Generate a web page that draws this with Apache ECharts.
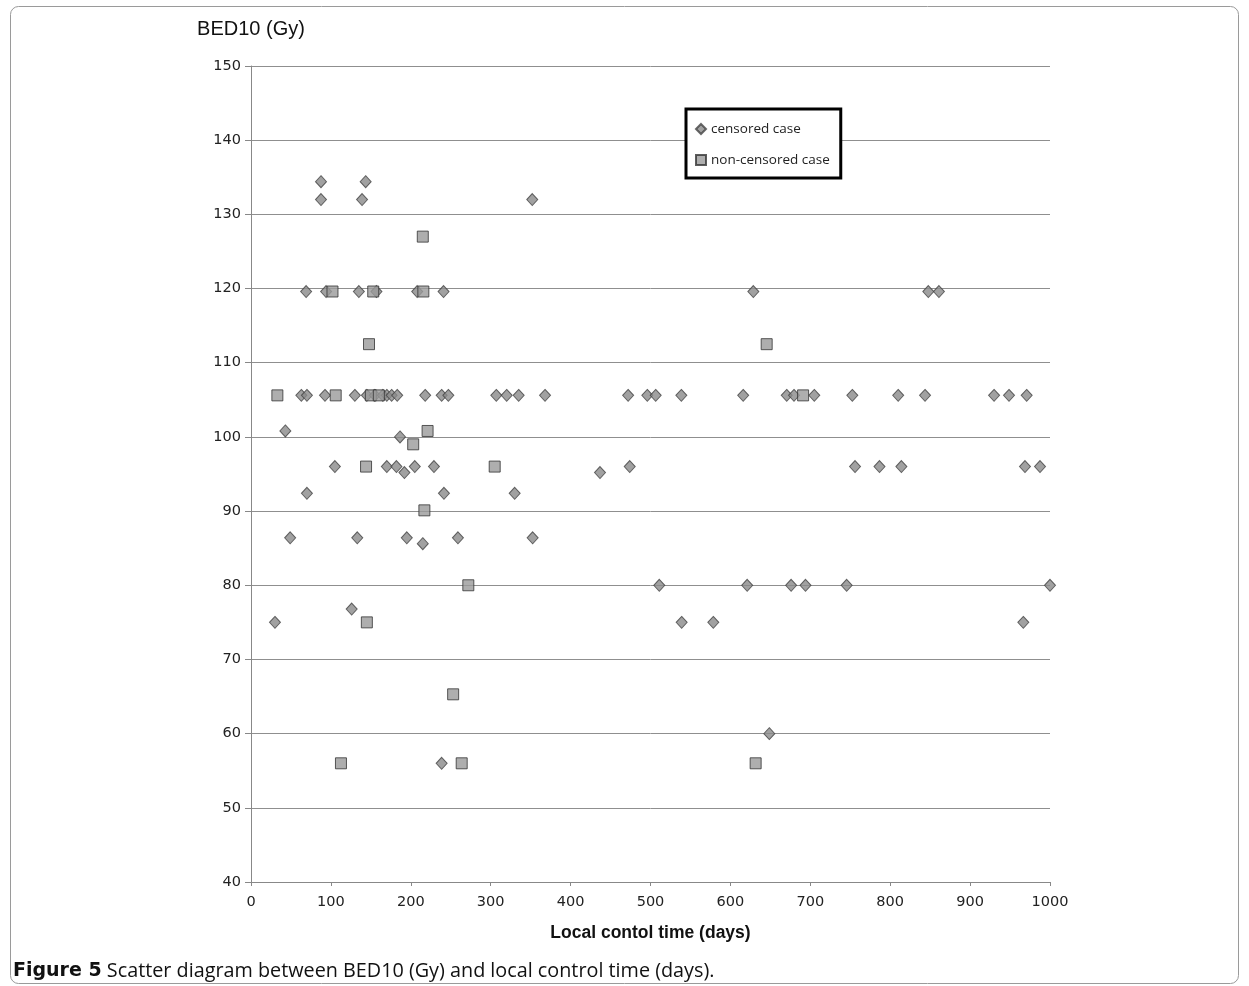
<!DOCTYPE html>
<html>
<head>
<meta charset="utf-8">
<script src="https://cdn.jsdelivr.net/npm/echarts/dist/echarts.min.js"></script>
<style>
html,body{margin:0;padding:0;background:#fff;}
#chart{width:1249px;height:986px;}
</style>
</head>
<body>
<div id="chart"></div>
<script>
// ---- data ----
const xTicks = [0,100,200,300,400,500,600,700,800,900,1000];
const yTicks = [40,50,60,70,80,90,100,110,120,130,140,150];

const censoredDays = [
  87.6, 143.5,
  87.6, 139, 352,
  69, 94, 135, 157, 208, 241, 628.7, 847.7, 861,
  63, 70, 92.6, 130, 145, 155, 165, 170, 176, 183, 218, 238.6, 247, 307, 320, 335, 368,
  472, 496, 506.5, 538.6, 616, 670.5, 679.6, 705, 752.6, 810, 843.6, 930, 948.7, 970.8,
  43,
  186.5,
  105, 170, 182, 205, 229, 474, 756, 786.6, 814, 968.7, 987.5,
  192, 436.8,
  70, 241.5, 330,
  49, 133, 195, 259, 352.5,
  215,
  511, 621, 676, 694, 745.5, 1000,
  126,
  30, 539, 578.6, 966.6,
  648.7,
  238.6
];
const censoredBed = [
  134.4, 134.4,
  132, 132, 132,
  119.6, 119.6, 119.6, 119.6, 119.6, 119.6, 119.6, 119.6, 119.6,
  105.6, 105.6, 105.6, 105.6, 105.6, 105.6, 105.6, 105.6, 105.6, 105.6, 105.6, 105.6, 105.6, 105.6, 105.6, 105.6, 105.6,
  105.6, 105.6, 105.6, 105.6, 105.6, 105.6, 105.6, 105.6, 105.6, 105.6, 105.6, 105.6, 105.6, 105.6,
  100.8,
  100,
  96, 96, 96, 96, 96, 96, 96, 96, 96, 96, 96,
  95.2, 95.2,
  92.4, 92.4, 92.4,
  86.4, 86.4, 86.4, 86.4, 86.4,
  85.6,
  80, 80, 80, 80, 80, 80,
  76.8,
  75, 75, 75, 75,
  60,
  56
];

const nonCensoredDays = [215, 102, 153, 215.7, 147.7, 645.4, 33, 106, 150, 160, 691, 221, 203, 144, 305, 217, 272, 145, 253, 112.6, 263.7, 631.6];
const nonCensoredBed  = [127, 119.6, 119.6, 119.6, 112.5, 112.5, 105.6, 105.6, 105.6, 105.6, 105.6, 100.8, 99, 96, 96, 90.1, 80, 75, 65.3, 56, 56, 56];

const seriesNames = ['censored case', 'non-censored case'];
const xTitle = 'Local contol time (days)';
const yTitle = 'BED10 (Gy)';
const captionBold = 'Figure 5';
const captionText = ' Scatter diagram between BED10 (Gy) and local control time (days).';

// ---- chart ----
const zip = (a, b) => a.map((v, i) => [v, b[i]]);
const chart = echarts.init(document.getElementById('chart'), null, {renderer: 'canvas'});

const tickFont = {fontFamily: 'DejaVu Sans', fontSize: 14.5, color: '#222'};

chart.setOption({
  animation: false,
  backgroundColor: '#fff',
  title: {
    left: 13,
    top: 957,
    padding: 0,
    text: '{b|' + captionBold + '}{n|' + captionText + '}',
    textStyle: {
      rich: {
        b: {fontFamily: 'DejaVu Sans', fontWeight: 'bold', fontSize: 19, lineHeight: 24, verticalAlign: 'bottom', color: '#111'},
        n: {fontFamily: 'Open Sans', fontWeight: 'normal', fontSize: 19.8, lineHeight: 24, verticalAlign: 'bottom', color: '#111'}
      }
    }
  },
  graphic: [{
    type: 'rect',
    shape: {x: 10.5, y: 6.5, width: 1228, height: 977, r: 8},
    style: {fill: 'none', stroke: '#9a9a9a', lineWidth: 1},
    silent: true
  }],
  grid: {left: 251, top: 66, width: 799, height: 816, containLabel: false},
  legend: {
    left: 686,
    top: 109,
    orient: 'vertical',
    padding: [13, 11, 11, 9],
    itemGap: 17,
    itemWidth: 10,
    itemHeight: 10,
    borderColor: '#000',
    borderWidth: 3,
    backgroundColor: '#fff',
    textStyle: {fontFamily: 'Open Sans', fontSize: 13.5, color: '#222'},
    data: [
      {name: seriesNames[0], icon: 'diamond'},
      {name: seriesNames[1], icon: 'rect'}
    ]
  },
  xAxis: {
    type: 'value',
    min: 0, max: 1000, interval: 100,
    name: xTitle,
    nameLocation: 'middle',
    nameGap: 42,
    nameTextStyle: {fontFamily: 'Liberation Sans', fontWeight: 'bold', fontSize: 17.5, color: '#111'},
    axisLine: {show: true, lineStyle: {color: '#888', width: 1}},
    axisTick: {show: true, inside: false, length: 4, lineStyle: {color: '#888'}},
    axisLabel: Object.assign({margin: 13, formatter: v => xTicks.includes(v) ? String(v) : ''}, tickFont),
    splitLine: {show: false}
  },
  yAxis: {
    type: 'value',
    min: 40, max: 150, interval: 10,
    name: yTitle,
    nameLocation: 'end',
    nameGap: 27,
    nameTextStyle: {fontFamily: 'Liberation Sans', fontSize: 20, color: '#111', align: 'center'},
    axisLine: {show: true, lineStyle: {color: '#888', width: 1}},
    axisTick: {show: true, inside: false, length: 6, lineStyle: {color: '#888'}},
    axisLabel: Object.assign({margin: 10, formatter: v => yTicks.includes(v) ? String(v) : ''}, tickFont),
    splitLine: {show: true, lineStyle: {color: '#8f8f8f', width: 1, type: 'solid'}}
  },
  series: [
    {
      name: seriesNames[0],
      type: 'scatter',
      symbol: 'diamond',
      symbolSize: [11, 12],
      itemStyle: {color: '#8a8a8a', borderColor: '#444', borderWidth: 1},
      data: zip(censoredDays, censoredBed),
      z: 3
    },
    {
      name: seriesNames[1],
      type: 'scatter',
      symbol: 'rect',
      symbolSize: 11,
      itemStyle: {color: '#9a9a9a', borderColor: '#333', borderWidth: 1},
      data: zip(nonCensoredDays, nonCensoredBed),
      z: 4
    }
  ]
});
</script>
</body>
</html>
